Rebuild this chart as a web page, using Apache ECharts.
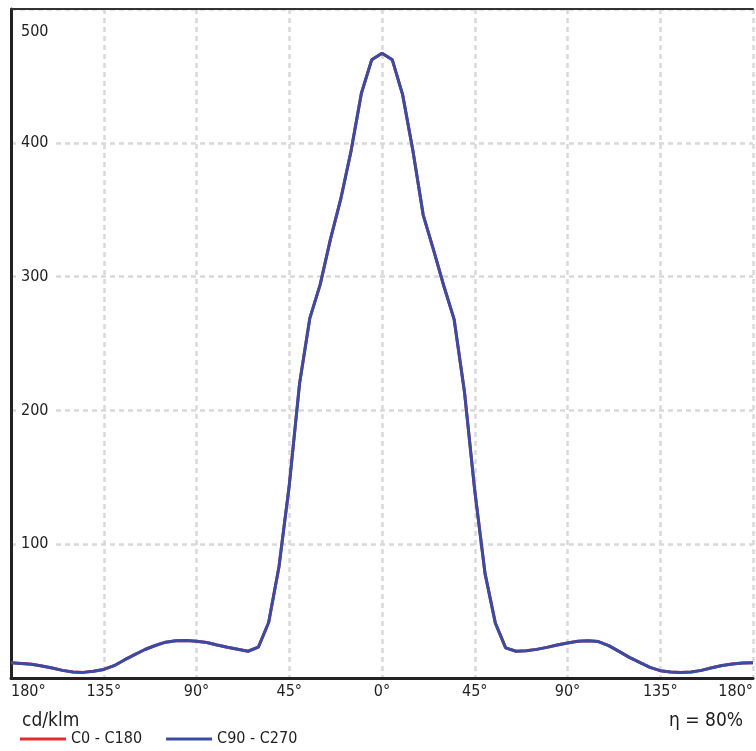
<!DOCTYPE html>
<html>
<head>
<meta charset="utf-8">
<script src="https://cdn.jsdelivr.net/npm/echarts@6/dist/echarts.min.js"></script>
<style>
  html, body { margin: 0; padding: 0; background: #fff; }
  #chart { width: 756px; height: 751px; }
</style>
</head>
<body>
<div id="chart"></div>
<script>
// Luminous intensity distribution (cd/klm) against gamma angle, -180..180 deg
const angles = [
  -180, -175, -170, -165, -160, -155, -150, -145, -140, -135, -130, -125,
  -120, -115, -110, -105, -100, -95, -90, -85, -80, -75, -70, -65,
  -60, -55, -50, -45, -40, -35, -30, -25, -20, -15, -10, -5,
  0, 5, 10, 15, 20, 25, 30, 35, 40, 45, 50, 55,
  60, 65, 70, 75, 80, 85, 90, 95, 100, 105, 110, 115,
  120, 125, 130, 135, 140, 145, 150, 155, 160, 165, 170, 175, 180
];
// C0 - C180 plane
const c0c180 = [
  11.4, 10.9, 10.2, 9.0, 7.5, 5.7, 4.5, 4.2, 5.0, 6.4, 9.2, 13.5,
  17.5, 21.3, 24.3, 26.8, 27.9, 28.0, 27.5, 26.5, 24.7, 23.0, 21.5, 20.0,
  23.0, 41.5, 83, 144, 220, 269, 294, 328, 358, 394, 437, 462,
  467, 462, 436, 394, 346, 320, 293, 268, 214, 140, 78, 41,
  22.5, 20.0, 20.4, 21.4, 22.9, 24.7, 26.2, 27.4, 27.9, 27.2, 24.2, 19.9,
  15.4, 11.7, 7.9, 5.5, 4.5, 4.2, 4.5, 5.7, 7.7, 9.4, 10.5, 11.2, 11.4
];
// C90 - C270 plane (coincides with C0 - C180)
const c90c270 = c0c180.slice();

const seriesNames = ['C0 - C180', 'C90 - C270'];
const seriesColors = ['#e52b2f', '#374ca2'];
const xTicks = [-180, -135, -90, -45, 0, 45, 90, 135, 180];
const yTicks = [0, 100, 200, 300, 400, 500];
const unitLabel = 'cd/klm';
const efficiencyLabel = 'η = 80%';

const FONT = "'DejaVu Sans Condensed', 'DejaVu Sans', sans-serif";
const TEXT = '#1e1e1e';
const GRID_LINE = { color: '#d9d9d9', width: 2.5, type: [5, 4] };

const toPairs = (vals) => angles.map((a, i) => [a, vals[i]]);

const chart = echarts.init(document.getElementById('chart'), null, { renderer: 'canvas' });

chart.setOption({
  animation: false,
  backgroundColor: '#fff',
  textStyle: { fontFamily: FONT, color: TEXT },
  grid: { left: 11, top: 9, width: 746.6, height: 669, containLabel: false },
  title: [
    { text: unitLabel, left: 17, top: 707, textStyle: { fontFamily: FONT, fontSize: 19, fontWeight: 'normal', color: TEXT } },
    { text: efficiencyLabel, right: 8, top: 707, textStyle: { fontFamily: FONT, fontSize: 19, fontWeight: 'normal', color: TEXT } }
  ],
  legend: {
    left: 15, top: 726,
    itemWidth: 46, itemHeight: 14, itemGap: 24,
    icon: 'path://M0,0 L46,0 L46,3 L0,3 Z',
    textStyle: { fontFamily: FONT, fontSize: 16, color: TEXT },
    data: seriesNames
  },
  xAxis: [
    {
      type: 'value', min: xTicks[0], max: xTicks[xTicks.length - 1], interval: 45,
      axisLine: { show: true, onZero: false, lineStyle: { color: '#222', width: 3 } },
      axisTick: { show: false },
      splitLine: { show: true, lineStyle: GRID_LINE },
      axisLabel: {
        margin: 6, fontFamily: FONT, fontSize: 16, color: TEXT,
        alignMinLabel: 'left', alignMaxLabel: 'right',
        formatter: (v) => Math.abs(v) + '°'
      }
    },
    {
      type: 'value', position: 'top', min: xTicks[0], max: xTicks[xTicks.length - 1], interval: 45,
      axisLine: { show: true, onZero: false, lineStyle: { color: '#333', width: 2 } },
      axisTick: { show: false }, axisLabel: { show: false }, splitLine: { show: false }
    }
  ],
  yAxis: {
    type: 'value', min: yTicks[0], max: yTicks[yTicks.length - 1], interval: 100,
    axisLine: { show: true, onZero: false, lineStyle: { color: '#222', width: 3 } },
    axisTick: { show: false },
    splitLine: { show: true, lineStyle: GRID_LINE },
    axisLabel: {
      inside: true, margin: 6,
      fontFamily: FONT, fontSize: 16, color: TEXT,
      formatter: (v) => v === yTicks[0] ? '' : (v === yTicks[yTicks.length - 1] ? '{top|' + v + '}' : '{n|' + v + '}'),
      rich: {
        n: { fontFamily: FONT, fontSize: 16, color: TEXT, backgroundColor: '#fff', padding: [2, 6, 2, 4] },
        top: { fontFamily: FONT, fontSize: 16, color: TEXT, padding: [46, 6, 0, 4] }
      }
    }
  },
  series: [
    {
      name: seriesNames[0], type: 'line', data: toPairs(c0c180),
      symbol: 'none', smooth: false,
      lineStyle: { color: seriesColors[0], width: 3 }, itemStyle: { color: seriesColors[0] }, z: 4
    },
    {
      name: seriesNames[1], type: 'line', data: toPairs(c90c270),
      symbol: 'none', smooth: false,
      lineStyle: { color: seriesColors[1], width: 3 }, itemStyle: { color: seriesColors[1] }, z: 5
    }
  ]
});
</script>
</body>
</html>
